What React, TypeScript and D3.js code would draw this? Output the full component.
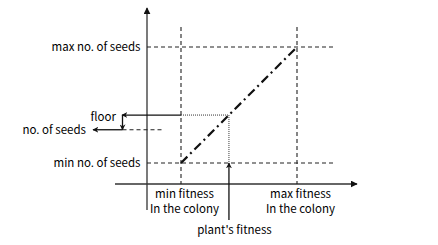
import React from "react";
import * as d3 from "d3";

// Conceptual data (fitness on x, number of seeds on y)
const FITNESS_LABELS = [["min fitness", "In the colony"], ["max fitness", "In the colony"]];
const FITNESS_VALUES = [1, 4];
const SEED_LABELS = ["min no. of seeds", "max no. of seeds"];
const SEED_VALUES = [10, 40];
const PLANT_FITNESS = 2.24;
const FLOOR_SEEDS = 22.4;
const RESULT_SEEDS = 18.6;
const PLANT_LABEL = "plant's fitness";
const FLOOR_LABEL = "floor";
const RESULT_LABEL = "no. of seeds";

const W = 438;
const H = 245;
const FONT = "'Noto Sans CJK SC', 'Noto Sans', sans-serif";

export default function App() {
  const x = d3.scaleLinear().domain([FITNESS_VALUES[0], FITNESS_VALUES[1]]).range([181, 297]);
  const y = d3.scaleLinear().domain([SEED_VALUES[0], SEED_VALUES[1]]).range([163, 47]);
  const axisX = 147; // y-axis position
  const axisY = 184; // x-axis position

  const line = d3.line<[number, number]>().x((d) => x(d[0])).y((d) => y(d[1]));
  const diag = line([
    [FITNESS_VALUES[0], SEED_VALUES[0]],
    [FITNESS_VALUES[1], SEED_VALUES[1]],
  ]) as string;

  const px = x(PLANT_FITNESS);
  const fy = y(FLOOR_SEEDS);
  const ry = y(RESULT_SEEDS);
  const dash = "4,3";
  const stroke = "#222";

  return (
    <svg
      width={W}
      height={H}
      style={{ position: "fixed", left: 0, top: 0, background: "#fff" }}
      fontFamily={FONT}
      fontSize={11.5}
    >
      <defs>
        <marker id="ah" viewBox="0 0 10 10" refX="9" refY="5" markerWidth="7" markerHeight="7" orient="auto" markerUnits="userSpaceOnUse">
          <path d="M0,0 L10,5 L0,10 z" fill="#111" />
        </marker>
        <marker id="ahs" viewBox="0 0 10 10" refX="9" refY="5" markerWidth="6" markerHeight="6" orient="auto" markerUnits="userSpaceOnUse">
          <path d="M0,0 L10,5 L0,10 L3,5 z" fill="#111" />
        </marker>
      </defs>

      {/* axes */}
      <line x1={axisX} y1={210} x2={axisX} y2={8} stroke="#333" strokeWidth={1.3} markerEnd="url(#ah)" />
      <line x1={115} y1={axisY} x2={357} y2={axisY} stroke="#333" strokeWidth={1.3} markerEnd="url(#ah)" />

      {/* vertical dashed guides */}
      {FITNESS_VALUES.map((v, i) => (
        <line key={"v" + i} x1={x(v)} y1={27} x2={x(v)} y2={axisY} stroke={stroke} strokeWidth={1.1} strokeDasharray={dash} />
      ))}
      {/* horizontal dashed guides */}
      {SEED_VALUES.map((v, i) => (
        <line key={"h" + i} x1={axisX} y1={y(v)} x2={334} y2={y(v)} stroke={stroke} strokeWidth={1.1} strokeDasharray={dash} />
      ))}

      {/* diagonal dash-dot line */}
      <path d={diag} stroke="#111" strokeWidth={2.2} fill="none" strokeDasharray="9,4,2,4" />

      {/* dotted floor lines */}
      <line x1={x(FITNESS_VALUES[0])} y1={fy} x2={px} y2={fy} stroke="#333" strokeWidth={1} strokeDasharray="1,1" />
      <line x1={px} y1={fy} x2={px} y2={y(SEED_VALUES[0])} stroke="#333" strokeWidth={1} strokeDasharray="1,1" />

      {/* floor arrow */}
      <line x1={x(FITNESS_VALUES[0])} y1={fy} x2={122} y2={fy} stroke="#111" strokeWidth={1.3} markerEnd="url(#ahs)" />
      <line x1={122.5} y1={fy} x2={122.5} y2={ry} stroke="#111" strokeWidth={1.3} markerEnd="url(#ahs)" />
      {/* no. of seeds arrow */}
      <line x1={122.5} y1={ry} x2={93} y2={ry} stroke="#111" strokeWidth={1.3} markerEnd="url(#ahs)" />
      <line x1={122.5} y1={ry} x2={163} y2={ry} stroke={stroke} strokeWidth={1.1} strokeDasharray={dash} />

      {/* plant's fitness arrow */}
      <line x1={px} y1={220} x2={px} y2={y(SEED_VALUES[0])} stroke="#111" strokeWidth={1.3} markerEnd="url(#ahs)" />

      {/* labels */}
      <g fill="#000">
        {SEED_LABELS.map((t, i) => (
          <text key={"sl" + i} x={140.5} y={y(SEED_VALUES[i]) + 4} textAnchor="end">{t}</text>
        ))}
        {FITNESS_LABELS.map((ls, i) => (
          <text key={"fl" + i} x={x(FITNESS_VALUES[i]) + 3.5} y={198} textAnchor="middle">
            {ls.map((l, j) => (
              <tspan key={j} x={x(FITNESS_VALUES[i]) + 3.5} y={198 + j * 14.5}>{l}</tspan>
            ))}
          </text>
        ))}
        <text x={116} y={121} textAnchor="end">{FLOOR_LABEL}</text>
        <text x={86} y={134} textAnchor="end">{RESULT_LABEL}</text>
        <text x={px + 5.5} y={234} textAnchor="middle">{PLANT_LABEL}</text>
      </g>
    </svg>
  );
}
